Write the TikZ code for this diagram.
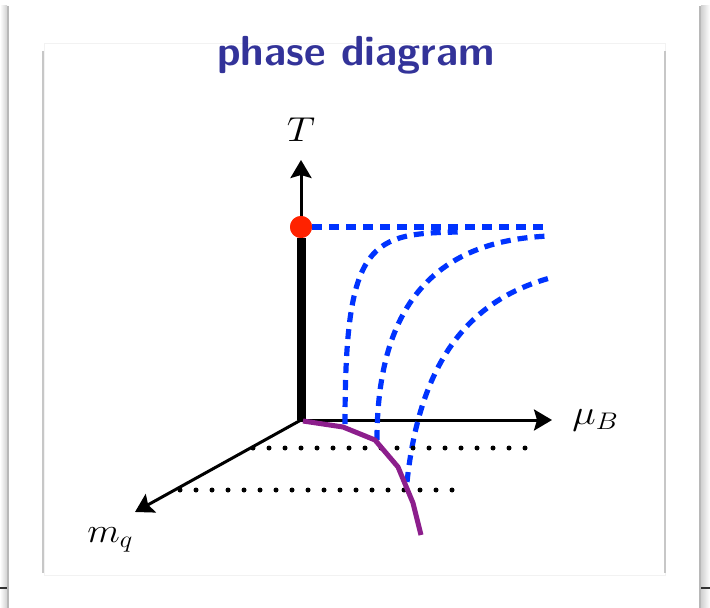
\documentclass[tikz,border=0pt]{standalone}
\usepackage{tikz}
\usetikzlibrary{arrows.meta,positioning}
\definecolor{titleblue}{RGB}{51,51,153}
\definecolor{critred}{RGB}{255,34,0}
\definecolor{lineblue}{RGB}{0,51,255}
\definecolor{curvepurple}{RGB}{140,30,140}
\newcommand{\wide}[2]{\scalebox{#1}[1]{#2}}

\begin{document}
\begin{tikzpicture}[x=0.5pt, y=-0.5pt,
        title/.style={font=\fontsize{21}{24}\selectfont\sffamily\bfseries, text=titleblue},
        lab/.style={font=\fontsize{18}{20}\selectfont, inner sep=0pt},
        axis/.style={-{Stealth[length=9pt, width=10.5pt, inset=1.5pt]}, line width=1.5pt},
        crossover/.style={lineblue, line width=2.6pt, dash pattern=on 5pt off 3.5pt},
        critpt/.style={circle, fill=critred, minimum size=11pt, inner sep=0pt},
        chiral/.style={curvepurple, line width=2.5pt, line join=round},
        dot/.style={black}]

    \useasboundingbox (0,0) rectangle (710,608);

    % slide frame
    \shade[left color=white, right color=black!18] (0,6) rectangle (7,608);
    \shade[left color=black!18, right color=white] (701,6) rectangle (710,608);
    \draw[black!28, line width=0.8pt] (8,6) -- (8,608);
    \draw[black!28, line width=0.8pt] (700,6) -- (700,608);
    \draw[black!80, line width=1pt] (0,588) -- (7,588);
    \draw[black!80, line width=1pt] (701,588) -- (710,588);
    \draw[black!5] (44,43) rectangle (665,575);
    \draw[black!22, line width=0.8pt] (43,51) -- (43,573);
    \draw[black!22, line width=0.8pt] (665,51) -- (665,573);

    \node[title, anchor=base] (title) at (356,66) {phase diagram};

    % axes
    \coordinate (O) at (301,420);
    \coordinate (Ttip) at (301,160);
    \coordinate (mutip) at (552,420);
    \coordinate (mqtip) at (135,512);
    \draw[axis] (O) -- (Ttip);
    \draw[axis] (O) -- (mutip);
    \draw[axis] (O) -- (mqtip);
    \node[lab, above=9pt of Ttip] (Tlab) {\wide{1.15}{$T$}};
    \node[lab, right=10pt of mutip] (mulab) {\wide{1.15}{$\mu_B$}};
    \node[lab, anchor=base west] (mqlab) at (87,542) {\wide{1.1}{$m_q$}};

    % crossover lines
    \node[critpt] (crit) at (301,227) {};
    \coordinate (hend) at (550,227);
    \draw[crossover] (crit) -- (hend);
    \draw[crossover] (345,424) .. controls (345,240) and (370,233) .. (462,232);
    \draw[crossover] (377,440) .. controls (377,300) and (440,240) .. (550,236);
    \draw[crossover] (407,482) .. controls (420,360) and (470,300) .. (550,278);

    % dotted planes
    \foreach \i in {0,...,17}
        \fill[dot] (253+16*\i,448) circle (1.25pt);
    \foreach \i in {0,...,17}
        \fill[dot] (180+16*\i,490) circle (1.25pt);

    % chiral line
    \draw[line width=4.5pt] (O) -- (crit);
    \node[critpt] at (crit) {};
    \draw[chiral] (303,421) -- (343,427) -- (375,440) -- (398,467) -- (413,503) -- (421,535);
\end{tikzpicture}
\end{document}
